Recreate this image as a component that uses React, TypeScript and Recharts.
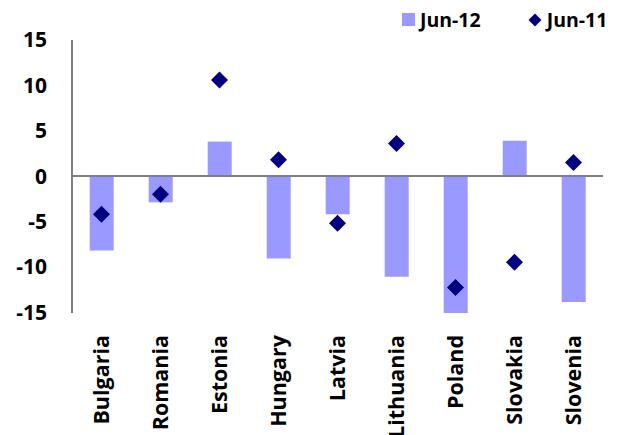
import React from "react";
import {
  ComposedChart, Bar, Line, XAxis, YAxis, ReferenceLine,
} from "recharts";

// Values
const COUNTRIES = ["Bulgaria", "Romania", "Estonia", "Hungary", "Latvia", "Lithuania", "Poland", "Slovakia", "Slovenia"];
const JUN_12 = [-8.2, -2.9, 3.8, -9.1, -4.2, -11.1, -15.1, 3.9, -13.9];
const JUN_11 = [-4.2, -2.0, 10.6, 1.8, -5.2, 3.6, -12.3, -9.5, 1.5];
const Y_TICKS = [-15, -10, -5, 0, 5, 10, 15];
const SERIES_NAMES = ["Jun-12", "Jun-11"];

const BAR_COLOR = "#9999ff";
const DOT_COLOR = "#000080";
const AXIS_COLOR = "#808080";
const FONT = "'Open Sans', 'Liberation Sans', sans-serif";

const data = COUNTRIES.map((name, i) => ({ name, jun12: JUN_12[i], jun11: JUN_11[i] }));

// Rotated category label, text end sits just below the plot
function CountryTick({ x, y, payload }: { x?: number; y?: number; payload?: { value: string } }) {
  const ty = (y ?? 0) + 20;
  return (
    <text
      x={x}
      y={ty}
      dy="0.36em"
      transform={`rotate(-90, ${x}, ${ty})`}
      textAnchor="end"
      fontFamily={FONT}
      fontWeight={700}
      fontSize={21.5}
      fill="#000"
    >
      {payload?.value}
    </text>
  );
}

// Diamond marker for the Jun-11 series
function Diamond({ cx, cy }: { cx?: number; cy?: number }) {
  if (cx == null || cy == null) return null;
  const r = 8.5;
  return (
    <polygon
      points={`${cx},${cy - r} ${cx + r},${cy} ${cx},${cy + r} ${cx - r},${cy}`}
      fill={DOT_COLOR}
    />
  );
}

export default function App() {
  return (
    <div style={{ position: "absolute", left: 0, top: 0, width: 626, height: 435, background: "#fff" }}>
      {/* Legend */}
      <div
        style={{
          position: "absolute", top: 7, left: 402, display: "flex", alignItems: "center",
          fontFamily: FONT, fontWeight: 700, fontSize: 19.5, color: "#000", lineHeight: "25px",
        }}
      >
        <span style={{ display: "inline-block", width: 13, height: 13, background: BAR_COLOR, marginRight: 5 }} />
        <span>{SERIES_NAMES[0]}</span>
        <svg width={14} height={14} style={{ marginLeft: 47, marginRight: 5 }}>
          <polygon points="7,0.5 13.5,7 7,13.5 0.5,7" fill={DOT_COLOR} />
        </svg>
        <span>{SERIES_NAMES[1]}</span>
      </div>

      <ComposedChart
        width={626}
        height={435}
        data={data}
        margin={{ top: 40, right: 23, bottom: 0, left: 0 }}
        barCategoryGap="30%"
      >
        <XAxis
          dataKey="name"
          height={122}
          axisLine={false}
          tickLine={false}
          tickSize={0}
          interval={0}
          tick={<CountryTick />}
        />
        <YAxis
          width={72}
          domain={[-15, 15]}
          ticks={Y_TICKS}
          interval={0}
          tickLine={false}
          tickSize={0}
          tickMargin={25}
          axisLine={{ stroke: AXIS_COLOR, strokeWidth: 2 }}
          tick={{ fill: "#000", fontSize: 21, fontWeight: 700, fontFamily: FONT }}
        />
        <Bar dataKey="jun12" name={SERIES_NAMES[0]} fill={BAR_COLOR} isAnimationActive={false} />
        <ReferenceLine y={0} stroke={AXIS_COLOR} strokeWidth={2} />
        <Line
          dataKey="jun11"
          name={SERIES_NAMES[1]}
          stroke="none"
          dot={<Diamond />}
          activeDot={false}
          isAnimationActive={false}
        />
      </ComposedChart>
    </div>
  );
}
